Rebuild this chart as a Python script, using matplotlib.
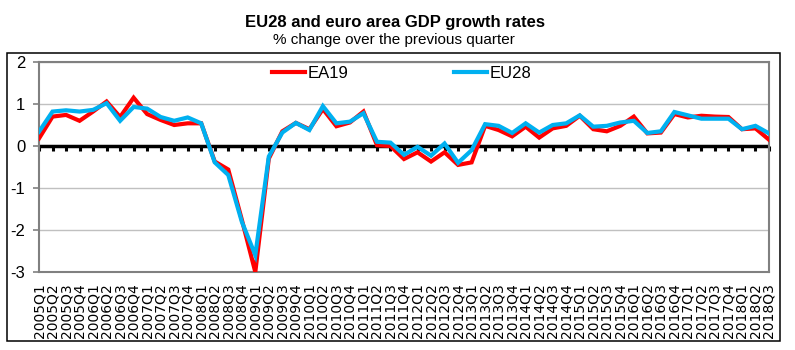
#!/usr/bin/env python3

import matplotlib
matplotlib.use('Agg')
import matplotlib.pyplot as plt
from matplotlib.patches import Rectangle
import numpy as np

plt.rcParams['font.family'] = ['Liberation Sans', 'DejaVu Sans']

# quarter labels 2005Q1 .. 2018Q3
quarters = ['{}Q{}'.format(y, q) for y in range(2005, 2019) for q in range(1, 5)][:55]

ea19 = [0.18, 0.70, 0.74, 0.60, 0.82, 1.06, 0.69, 1.15, 0.76, 0.62,
        0.50, 0.54, 0.54, -0.37, -0.56, -1.75, -3.00, -0.30, 0.35, 0.55,
        0.40, 0.88, 0.47, 0.56, 0.82, 0.02, 0.00, -0.31, -0.15, -0.37,
        -0.15, -0.45, -0.39, 0.48, 0.38, 0.23, 0.46, 0.20, 0.42, 0.48,
        0.72, 0.40, 0.35, 0.48, 0.70, 0.30, 0.32, 0.76, 0.68, 0.72,
        0.70, 0.69, 0.40, 0.42, 0.15]

eu28 = [0.34, 0.82, 0.85, 0.82, 0.86, 1.02, 0.60, 0.93, 0.89, 0.69,
        0.60, 0.68, 0.54, -0.39, -0.69, -1.80, -2.60, -0.25, 0.32, 0.55,
        0.38, 0.95, 0.54, 0.58, 0.78, 0.10, 0.08, -0.21, -0.02, -0.23,
        0.06, -0.40, -0.10, 0.52, 0.48, 0.31, 0.54, 0.32, 0.50, 0.54,
        0.73, 0.46, 0.48, 0.56, 0.60, 0.31, 0.35, 0.81, 0.73, 0.65,
        0.65, 0.65, 0.40, 0.48, 0.30]

yticks = [-3, -2, -1, 0, 1, 2]

W, H = 795, 350
fig = plt.figure(figsize=(W / 100, H / 100), dpi=100)
ax = fig.add_axes([39 / W, 1 - 272 / H, 730 / W, 210 / H])

x = np.arange(len(quarters))

# zero axis: black line plus downward tick marks at every quarter
ax.axhline(0, color='black', lw=2.5, zorder=2)
ax.plot(x, np.zeros(len(x)), linestyle='none', marker=3, markersize=3.5,
        markeredgewidth=2.2, color='black', zorder=2, clip_on=False)

ax.plot(x, ea19, color='#FF0000', lw=3, label='EA19', solid_joinstyle='miter', zorder=3)
ax.plot(x, eu28, color='#00B0F0', lw=3, label='EU28', solid_joinstyle='miter', zorder=4)

ax.set_xlim(0, len(quarters) - 1)
ax.set_ylim(-3, 2)
ax.set_yticks(yticks)
ax.set_yticklabels([str(v) for v in yticks], fontsize=12)
ax.tick_params(axis='y', length=4.3, width=1.2, color='#808080', pad=5.5)
ax.set_xticks(x)
ax.set_xticklabels(quarters, rotation=90, fontsize=10, family='DejaVu Sans')
ax.tick_params(axis='x', length=0, pad=8)

ax.grid(axis='y', color='#C0C0C0', lw=1)
for s in ax.spines.values():
    s.set_color('#808080')
    s.set_linewidth(1.5)

ax.legend(loc='center left', bbox_to_anchor=(272 / W, 1 - 73 / H),
          bbox_transform=fig.transFigure, ncol=2, frameon=False, fontsize=12,
          handlelength=2.0, handletextpad=0.15, columnspacing=6.3,
          borderpad=0, borderaxespad=0)

fig.text(0.497, 1 - 22 / H, 'EU28 and euro area GDP growth rates',
         ha='center', va='center', fontsize=12, fontweight='bold')
fig.text(0.495, 1 - 40 / H, '% change over the previous quarter',
         ha='center', va='center', fontsize=11)

fig.patches.append(Rectangle((7 / W, 1 - 341 / H), 773 / W, 288 / H,
                             transform=fig.transFigure, fill=False,
                             edgecolor='black', lw=1.1))

fig.savefig('out.png', dpi=100)
